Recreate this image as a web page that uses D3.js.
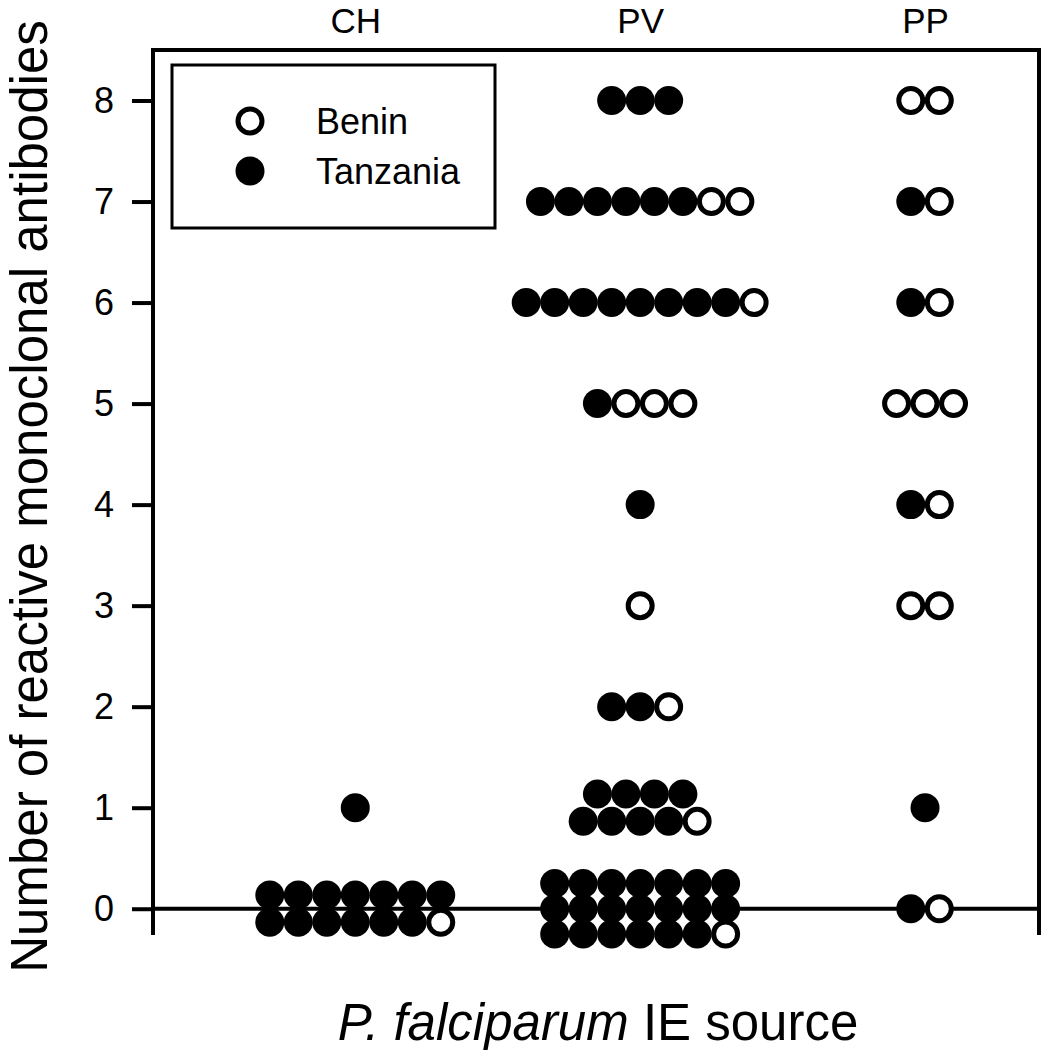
<!DOCTYPE html>
<html>
<head>
<meta charset="utf-8">
<script src="https://cdn.jsdelivr.net/npm/d3@7"></script>
<style>
  html, body { margin: 0; padding: 0; background: #fff; }
  svg { display: block; }
  text { font-family: "Liberation Sans", Arial, Helvetica, sans-serif; fill: #000; }
</style>
</head>
<body>
<svg id="chart" width="1043" height="1050"></svg>
<script>
// ---------------- data ----------------
const categories = ["CH", "PV", "PP"];
const levels = [0, 1, 2, 3, 4, 5, 6, 7, 8];           // number of reactive mAbs
const yTickLabels = ["0", "1", "2", "3", "4", "5", "6", "7", "8"];
const seriesNames = ["Benin", "Tanzania"];

// counts of isolates at each level (index = level 0..8)
const chTanzania = [13, 1, 0, 0, 0, 0, 0, 0, 0];
const chBenin    = [ 1, 0, 0, 0, 0, 0, 0, 0, 0];
const pvTanzania = [20, 8, 2, 0, 1, 1, 8, 6, 3];
const pvBenin    = [ 1, 1, 1, 1, 0, 3, 1, 2, 0];
const ppTanzania = [ 1, 1, 0, 0, 1, 0, 1, 1, 0];
const ppBenin    = [ 1, 0, 0, 2, 1, 3, 1, 1, 2];

const xTitleItalic = "P. falciparum";
const xTitleRest = " IE source";
const yTitle = "Number of reactive monoclonal antibodies";

// ---------------- layout ----------------
const W = 1043, H = 1050;
const mLeft = 153, mRight = 1039, mTop = 50, mBottom = 935;
const colStep = 0.1;                  // horizontal spacing of markers (category units)
const subRows = { CH: {0: 2}, PV: {0: 3, 1: 2} };   // stacking of crowded levels
const rowGap = { 2: 0.27, 3: 0.25 };
const rFill = 14.5, rOpen = 12, openStroke = 5;

const svg = d3.select("#chart");
svg.append("rect").attr("width", W).attr("height", H).attr("fill", "#fff");

const x = d3.scaleLinear().domain([-0.71, 2.4]).range([mLeft, mRight]);
const y = d3.scaleLinear().domain([-0.26, 8.5]).range([mBottom, mTop]);

// build points
const countsT = { CH: chTanzania, PV: pvTanzania, PP: ppTanzania };
const countsB = { CH: chBenin, PV: pvBenin, PP: ppBenin };
const points = [];
categories.forEach((cat, ci) => {
  levels.forEach((lv, li) => {
    const items = [];
    for (let k = 0; k < countsT[cat][li]; k++) items.push("Tanzania");
    for (let k = 0; k < countsB[cat][li]; k++) items.push("Benin");
    const n = items.length;
    if (!n) return;
    const rows = (subRows[cat] && subRows[cat][lv]) || 1;
    let idx = 0;
    for (let r = 0; r < rows; r++) {
      const size = Math.floor((n + r) / rows);
      const dy = rows > 1 ? (((rows - 1) / 2 - r) * rowGap[rows]) : 0;
      for (let j = 0; j < size; j++) {
        points.push({
          cat, ci, level: lv, group: items[idx++],
          xv: ci + (j - (size - 1) / 2) * colStep,
          yv: lv + dy
        });
      }
    }
  });
});

// frame
const frame = svg.append("g").attr("stroke", "#000").attr("stroke-width", 4).attr("fill", "none");
frame.append("line").attr("x1", mLeft).attr("x2", mLeft).attr("y1", y(8.5)).attr("y2", y(-0.26));
frame.append("line").attr("x1", mRight).attr("x2", mRight).attr("y1", y(8.5)).attr("y2", y(-0.26));
frame.append("line").attr("x1", mLeft - 2).attr("x2", mRight + 2).attr("y1", y(8.5)).attr("y2", y(8.5));
frame.append("line").attr("x1", mLeft).attr("x2", mRight).attr("y1", y(0)).attr("y2", y(0));

// y axis
const yAxis = d3.axisLeft(y).tickValues(levels).tickFormat((d, i) => yTickLabels[i])
  .tickSize(21).tickPadding(18);
const gy = svg.append("g").attr("transform", `translate(${mLeft},0)`).call(yAxis);
gy.select(".domain").remove();
gy.selectAll(".tick line").attr("stroke", "#000").attr("stroke-width", 4);
gy.selectAll(".tick text").attr("font-size", 36).attr("font-family", "Liberation Sans, Arial, sans-serif").attr("fill", "#000");

// category labels along top
const gx = svg.append("g").attr("transform", `translate(0,${mTop})`)
  .call(d3.axisTop(x).tickValues([0, 1, 2]).tickFormat(i => categories[i]).tickSize(0).tickPadding(17));
gx.select(".domain").remove();
gx.selectAll(".tick text").attr("font-size", 35).attr("font-family", "Liberation Sans, Arial, sans-serif").attr("fill", "#000");

// markers
svg.append("g").selectAll("circle").data(points).join("circle")
  .attr("cx", d => x(d.xv))
  .attr("cy", d => y(d.yv))
  .attr("r", d => d.group === "Tanzania" ? rFill : rOpen)
  .attr("fill", d => d.group === "Tanzania" ? "#000" : "#fff")
  .attr("stroke", d => d.group === "Tanzania" ? "none" : "#000")
  .attr("stroke-width", openStroke);

// legend
const lg = svg.append("g");
lg.append("rect").attr("x", 172).attr("y", 65).attr("width", 323).attr("height", 163)
  .attr("fill", "#fff").attr("stroke", "#000").attr("stroke-width", 3);
seriesNames.forEach((name, i) => {
  const cy = 121 + i * 50;
  lg.append("circle").attr("cx", 250).attr("cy", cy)
    .attr("r", name === "Tanzania" ? rFill : rOpen)
    .attr("fill", name === "Tanzania" ? "#000" : "#fff")
    .attr("stroke", name === "Tanzania" ? "none" : "#000")
    .attr("stroke-width", openStroke);
  lg.append("text").attr("x", 316).attr("y", cy).attr("dy", "0.36em")
    .attr("font-size", 36).text(name);
});

// axis titles
const xt = svg.append("text").attr("x", (mLeft + mRight) / 2 + 2).attr("y", 1040)
  .attr("text-anchor", "middle").attr("font-size", 51);
xt.append("tspan").attr("font-style", "italic").text(xTitleItalic);
xt.append("tspan").text(xTitleRest);

svg.append("text").attr("transform", `translate(47,${(mTop + mBottom) / 2 + 4}) rotate(-90)`)
  .attr("text-anchor", "middle").attr("font-size", 51).text(yTitle);
</script>
</body>
</html>
